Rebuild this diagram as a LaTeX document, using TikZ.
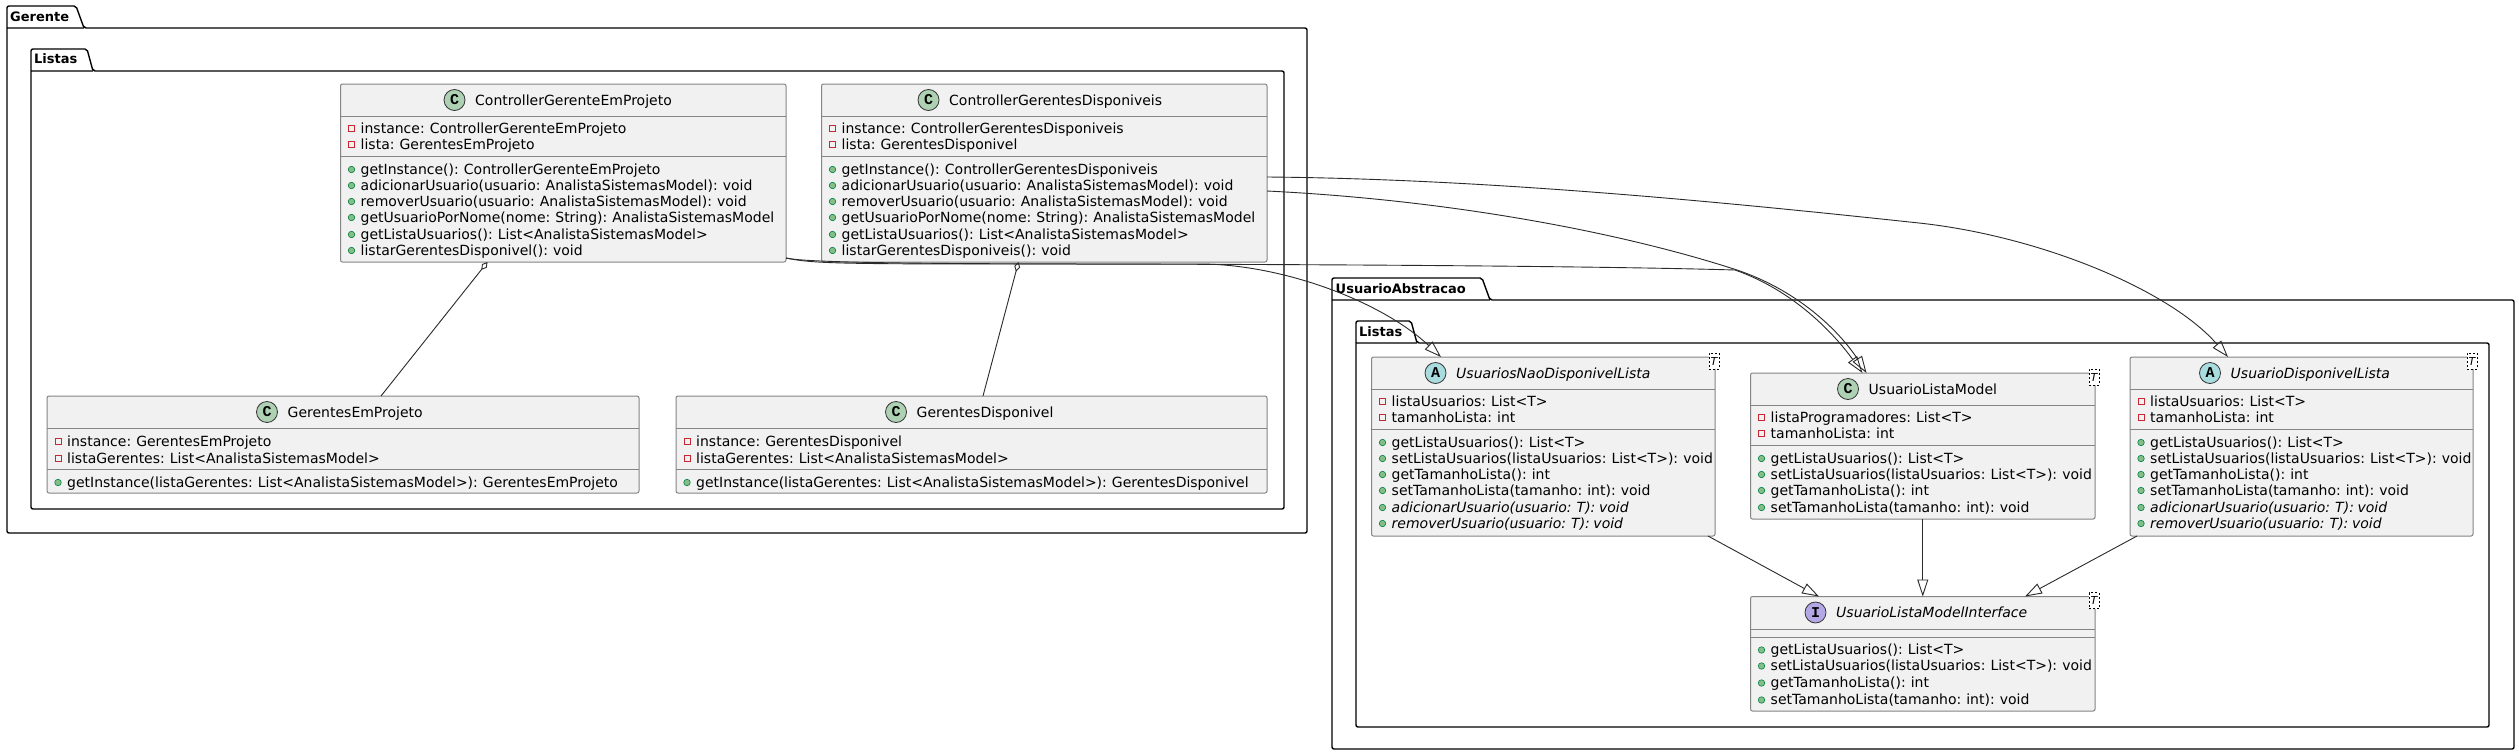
\documentclass[tikz,border=0pt]{standalone}
\usepackage{fontspec}
\setmainfont[WordSpace=0.8]{DejaVu Sans}
\newfontfamily\spotfont{Liberation Mono}
\usetikzlibrary{calc}
\usetikzlibrary{arrows.meta}
\definecolor{boxfill}{HTML}{F1F1F1}
\definecolor{boxline}{HTML}{858585}
\definecolor{edgeline}{HTML}{2A2A2A}
\definecolor{spotC}{HTML}{ADD1B2}
\definecolor{spotA}{HTML}{A9DCDF}
\definecolor{spotI}{HTML}{B4A7E5}
\definecolor{privline}{HTML}{C82930}
\definecolor{pubfill}{HTML}{84BE84}
\definecolor{publine}{HTML}{038048}
\tikzset{
pkgline/.style={draw=black,line width=1.4pt,rounded corners=2pt},
pkgtitle/.style={anchor=base west,inner sep=0pt,font=\fontsize{13}{16}\selectfont\bfseries},
classbox/.style={anchor=north west,draw=boxline,fill=boxfill,line width=1pt,rounded corners=2pt,inner sep=0pt,outer sep=0pt},
classsep/.style={draw=boxline,line width=1pt},
classtitle/.style={anchor=base west,inner sep=0pt,font=\fontsize{14}{16}\selectfont},
member/.style={anchor=base west,inner sep=0pt,font=\fontsize{14}{16}\selectfont},
spot/.style={circle,draw=black!80,line width=.8pt,minimum size=21pt,inner sep=0pt,font=\fontsize{15}{16}\selectfont\spotfont\bfseries},
privmark/.style={rectangle,draw=privline,line width=.9pt,minimum size=6pt,inner sep=0pt},
pubmark/.style={circle,draw=publine,line width=.6pt,fill=pubfill,minimum size=6.5pt,inner sep=0pt},
tparam/.style={rectangle,draw=black,dash pattern=on 2pt off 2pt,line width=.6pt,fill=white,minimum width=10pt,minimum height=16pt,inner sep=0pt,font=\fontsize{11}{12}\selectfont\itshape},
ext/.style={draw=edgeline,line width=.9pt,-{Triangle[open,length=17pt,width=11pt]}},
agg/.style={draw=edgeline,line width=.9pt,{Diamond[open,length=10pt,width=6pt,fill=white]}-},
}
% name, colour, letter, offset of the spot, title, the two rules
\newcommand{\classhead}[7]{
\node[spot,fill=#2] (#1-spot) at ($(#1.north west)+(#4,16)$) {#3};
\node[classtitle] (#1-title) at ($(#1.north west)+(#4+20.5,21)$) {#5};
\draw[classsep] ($(#1.north west)+(0,#6)$)--($(#1.north east)+(0,#6)$);
\draw[classsep] ($(#1.north west)+(0,#7)$)--($(#1.north east)+(0,#7)$);
}
\newcommand{\attrs}[2]{
\foreach \y/\t in {#2} {
\node[privmark] (#1-pa\y) at ($(#1.north west)+(11,\y-4.5)$) {};
\node[member] (#1-a\y) at ($(#1.north west)+(20,\y)$) {\t};}
}
\newcommand{\methods}[2]{
\foreach \y/\t in {#2} {
\node[pubmark] (#1-pm\y) at ($(#1.north west)+(11,\y-4.5)$) {};
\node[member] (#1-m\y) at ($(#1.north west)+(20,\y)$) {\t};}
}
\begin{document}
\begin{tikzpicture}[x=1pt,y=-1pt]
\path[use as bounding box,fill=white] (0,0) rectangle (2519,753);
% packages
\draw[pkgline] (7,28)--(7,6)--(76,6)--(84,28)--(1307,28)--(1307,533)--(7,533)--cycle (7,28)--(84,28);
\node[pkgtitle] (gerente) at (10,21) {Gerente};
\draw[pkgline] (31,71)--(31,49)--(87,49)--(93,71)--(1284,71)--(1284,509)--(31,509)--cycle (31,71)--(93,71);
\node[pkgtitle] (listasg) at (34,63) {Listas};
\draw[pkgline] (1332,300)--(1332,278)--(1482,278)--(1490,300)--(2514,300)--(2514,749)--(1332,749)--cycle (1332,300)--(1490,300);
\node[pkgtitle] (abstracao) at (1335.5,293) {UsuarioAbstracao};
\draw[pkgline] (1356,343)--(1356,321)--(1411,321)--(1417,343)--(2489,343)--(2489,727)--(1356,727)--cycle (1356,343)--(1417,343);
\node[pkgtitle] (listasu) at (1359,336) {Listas};
% classes
\node[classbox,minimum width=445.5pt,minimum height=178pt] (cgep) at (340.5,84) {};
\classhead{cgep}{spotC}{C}{114}{ControllerGerenteEmProjeto}{32}{72}
\attrs{cgep}{49/instance: ControllerGerenteEmProjeto,65/lista: GerentesEmProjeto}
\methods{cgep}{90/getInstance(): ControllerGerenteEmProjeto,106/adicionarUsuario(usuario: AnalistaSistemasModel): void,122/removerUsuario(usuario: AnalistaSistemasModel): void,138/getUsuarioPorNome(nome: String): AnalistaSistemasModel,155/getListaUsuarios(): List<AnalistaSistemasModel>,171/listarGerentesDisponivel(): void}
\node[classbox,minimum width=445.5pt,minimum height=178pt] (cgd) at (821.5,84) {};
\classhead{cgd}{spotC}{C}{107}{ControllerGerentesDisponiveis}{32}{72}
\attrs{cgd}{49/instance: ControllerGerentesDisponiveis,65/lista: GerentesDisponivel}
\methods{cgd}{90/getInstance(): ControllerGerentesDisponiveis,106/adicionarUsuario(usuario: AnalistaSistemasModel): void,122/removerUsuario(usuario: AnalistaSistemasModel): void,138/getUsuarioPorNome(nome: String): AnalistaSistemasModel,155/getListaUsuarios(): List<AnalistaSistemasModel>,171/listarGerentesDisponiveis(): void}
\node[classbox,minimum width=592pt,minimum height=97pt] (gep) at (47,396) {};
\classhead{gep}{spotC}{C}{220}{GerentesEmProjeto}{32}{73}
\attrs{gep}{50/instance: GerentesEmProjeto,67/listaGerentes: List<AnalistaSistemasModel>}
\methods{gep}{91/getInstance(listaGerentes: List<AnalistaSistemasModel>): GerentesEmProjeto}
\node[classbox,minimum width=591pt,minimum height=97pt] (gd) at (676,396) {};
\classhead{gd}{spotC}{C}{220}{GerentesDisponivel}{32}{73}
\attrs{gd}{50/instance: GerentesDisponivel,67/listaGerentes: List<AnalistaSistemasModel>}
\methods{gd}{91/getInstance(listaGerentes: List<AnalistaSistemasModel>): GerentesDisponivel}
\node[classbox,minimum width=343.5pt,minimum height=179pt] (undl) at (1371.5,357) {};
\classhead{undl}{spotA}{A}{64}{\itshape UsuariosNaoDisponivelLista}{32}{72}
\attrs{undl}{49/listaUsuarios: List<T>,65/tamanhoLista: int}
\methods{undl}{90/getListaUsuarios(): List<T>,106/setListaUsuarios(listaUsuarios: List<T>): void,122/getTamanhoLista(): int,138/setTamanhoLista(tamanho: int): void,155/\itshape adicionarUsuario(usuario: T): void,171/\itshape removerUsuario(usuario: T): void}
\node[classbox,minimum width=344.5pt,minimum height=146pt] (ulm) at (1750.5,373) {};
\classhead{ulm}{spotC}{C}{97.5}{UsuarioListaModel}{32}{72}
\attrs{ulm}{49/listaProgramadores: List<T>,65/tamanhoLista: int}
\methods{ulm}{90/getListaUsuarios(): List<T>,106/setListaUsuarios(listaUsuarios: List<T>): void,122/getTamanhoLista(): int,139/setTamanhoLista(tamanho: int): void}
\node[classbox,minimum width=343pt,minimum height=179pt] (udl) at (2130,357) {};
\classhead{udl}{spotA}{A}{80}{\itshape UsuarioDisponivelLista}{32}{72}
\attrs{udl}{49/listaUsuarios: List<T>,65/tamanhoLista: int}
\methods{udl}{90/getListaUsuarios(): List<T>,106/setListaUsuarios(listaUsuarios: List<T>): void,122/getTamanhoLista(): int,138/setTamanhoLista(tamanho: int): void,155/\itshape adicionarUsuario(usuario: T): void,171/\itshape removerUsuario(usuario: T): void}
\node[classbox,minimum width=344.5pt,minimum height=114.5pt] (ulmi) at (1750.5,596.5) {};
\classhead{ulmi}{spotI}{I}{65}{\itshape UsuarioListaModelInterface}{32.5}{40.5}
\methods{ulmi}{58/getListaUsuarios(): List<T>,74/setListaUsuarios(listaUsuarios: List<T>): void,91/getTamanhoLista(): int,108/setTamanhoLista(tamanho: int): void}
% type parameters
\foreach \c in {undl,ulm,udl,ulmi} {
\node[tparam] (\c-t) at ($(\c.north east)+(-1,4)$) {T};}
% connectors
\draw[agg] ($(cgep.south west)+(147,0)$)--($(gep.north west)+(334,0)$);
\draw[agg] ($(cgd.south west)+(197,0)$)--($(gd.north west)+(307,0)$);
\draw[ext] ($(cgep.south east)+(0,-4)$) .. controls (810,264) and (1000,264) .. (1200,264) .. controls (1280,264) and (1380,300) .. ($(undl.north west)+(69.5,0)$);
\draw[ext] ($(cgep.south east)+(0,-4)$) .. controls (810,263) and (830,264) .. (1000,264) .. controls (1300,264) and (1600,266) .. (1735,270) .. controls (1795,291) and (1835,335) .. ($(ulm.north west)+(112,0)$);
\draw[ext] ($(cgd.north east)+(0,107)$) .. controls (1450,200) and (1620,232) .. (1737,270) .. controls (1802,292) and (1842,335) .. ($(ulm.north west)+(116,0)$);
\draw[ext] ($(cgd.north east)+(0,93)$) .. controls (1500,179) and (1750,205) .. (1919,223) .. controls (2040,236) and (2170,290) .. ($(udl.north west)+(98,0)$);
\draw[ext] ($(undl.south east)+(-7,0)$)--($(ulmi.north west)+(68.5,0)$);
\draw[ext] (ulm.south)--(ulm.south |- ulmi.north);
\draw[ext] ($(udl.south west)+(7,0)$)--($(ulmi.north east)+(-70,0)$);
\end{tikzpicture}
\end{document}
